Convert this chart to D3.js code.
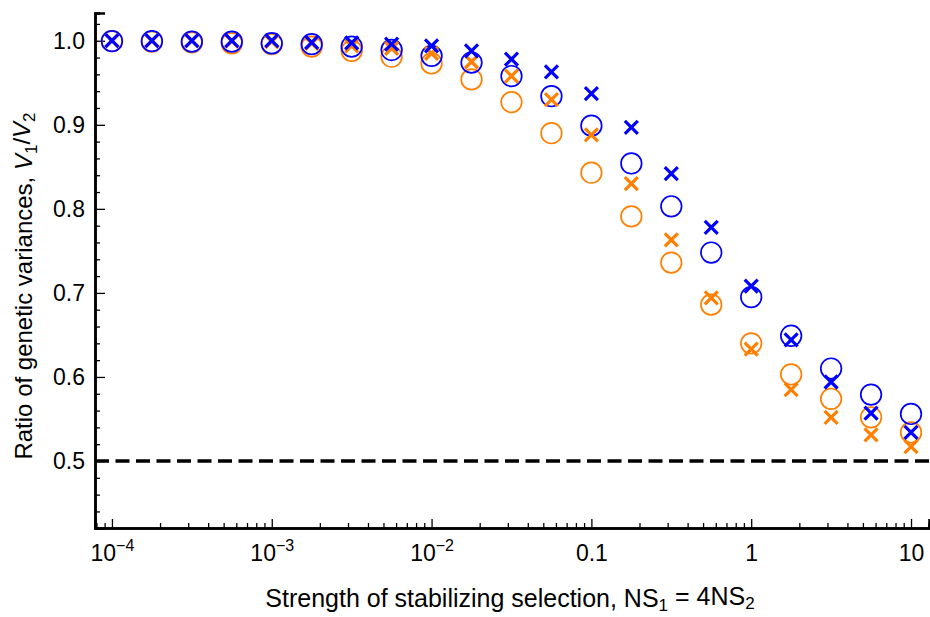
<!DOCTYPE html>
<html>
<head>
<meta charset="utf-8">
<script src="https://cdn.jsdelivr.net/npm/d3@7/dist/d3.min.js"></script>
<style>
  html, body { margin: 0; padding: 0; background: #fff; }
  svg { display: block; font-family: "Liberation Sans", Arial, Helvetica, sans-serif; }
</style>
</head>
<body>
<svg id="chart" width="930" height="617"></svg>
<script>
// Selection strength NS1 (quarter-decade steps from 1e-4 to 10)
const strength = [1e-4, 1.778e-4, 3.162e-4, 5.623e-4, 1e-3, 1.778e-3, 3.162e-3, 5.623e-3,
                  1e-2, 1.778e-2, 3.162e-2, 5.623e-2, 0.1, 0.1778, 0.3162, 0.5623,
                  1, 1.778, 3.162, 5.623, 10];

// Ratio V1/V2 for the four series
const blueCross   = [1.000, 1.000, 1.000, 1.000, 1.000, 0.998, 0.9975, 0.996, 0.994, 0.988, 0.978,
                     0.963, 0.937, 0.897, 0.842, 0.778, 0.708, 0.644, 0.594, 0.557, 0.534];
const blueCircle  = [0.9995, 0.9995, 0.999, 0.999, 0.997, 0.996, 0.993, 0.989, 0.982, 0.974, 0.958,
                     0.934, 0.899, 0.854, 0.803, 0.748, 0.695, 0.649, 0.610, 0.579, 0.556];
const orangeCross = [1.000, 1.000, 1.000, 0.9995, 0.999, 0.997, 0.994, 0.991, 0.985, 0.975, 0.958,
                     0.930, 0.888, 0.830, 0.763, 0.694, 0.633, 0.585, 0.552, 0.531, 0.517];
const orangeCircle= [0.9995, 0.999, 0.998, 0.997, 0.996, 0.993, 0.988, 0.981, 0.973, 0.954, 0.927,
                     0.890, 0.843, 0.791, 0.736, 0.686, 0.640, 0.603, 0.574, 0.552, 0.534];

// Reference level
const refLevel = 0.5;

// Axis ticks
const yMajor = [0.5, 0.6, 0.7, 0.8, 0.9, 1.0];
const yMinor = [0.44, 0.46, 0.48, 0.52, 0.54, 0.56, 0.58, 0.62, 0.64, 0.66, 0.68, 0.72, 0.74, 0.76, 0.78,
                0.82, 0.84, 0.86, 0.88, 0.92, 0.94, 0.96, 0.98, 1.02];
const xMajor = [1e-4, 1e-3, 1e-2, 0.1, 1, 10];
const xLabels = [["10", "\u22124"], ["10", "\u22123"], ["10", "\u22122"], ["0.1", ""], ["1", ""], ["10", ""]];

const BLUE = "#0000ff";
const ORANGE = "#ff8000";
const TICK_FONT = 23;

const svg = d3.select("#chart");

const x = d3.scaleLog().domain([Math.pow(10, -4.106), Math.pow(10, 1.1125)]).range([95, 929]);
const y = d3.scaleLinear().domain([0.4203, 1.033]).range([528, 13]);

// x minor ticks: 2..9 times each power of ten inside the domain
const xMinor = [];
[1e-5, 1e-4, 1e-3, 1e-2, 0.1, 1, 10].forEach(p => {
  for (let k = 2; k <= 9; k++) {
    const v = k * p;
    if (v >= x.domain()[0] && v <= x.domain()[1]) xMinor.push(v);
  }
});

// Dashed reference line
svg.append("line")
  .attr("x1", x.range()[0]).attr("x2", x.range()[1])
  .attr("y1", y(refLevel)).attr("y2", y(refLevel))
  .attr("stroke", "#000").attr("stroke-width", 3.5)
  .attr("stroke-dasharray", "14,6.5");

// Y axis
const gyMinor = svg.append("g").attr("transform", `translate(${x.range()[0]},0)`)
  .call(d3.axisLeft(y).tickValues(yMinor).tickSize(-5).tickFormat(""));
const gy = svg.append("g").attr("transform", `translate(${x.range()[0]},0)`)
  .call(d3.axisLeft(y).tickValues(yMajor).tickSize(-10).tickPadding(10).tickFormat(d3.format(".1f")));

// X axis
const gxMinor = svg.append("g").attr("transform", `translate(0,${y.range()[0]})`)
  .call(d3.axisBottom(x).tickValues(xMinor).tickSize(-5).tickFormat(""));
const gx = svg.append("g").attr("transform", `translate(0,${y.range()[0]})`)
  .call(d3.axisBottom(x).tickValues(xMajor).tickSize(-9).tickPadding(10).tickFormat(""));

[gy, gyMinor, gx, gxMinor].forEach(g => {
  g.select(".domain").attr("stroke", "#000").attr("stroke-width", 2.5);
  g.selectAll(".tick line").attr("stroke", "#000").attr("stroke-width", 1.3);
});
gy.selectAll(".tick text").attr("font-size", TICK_FONT).attr("fill", "#000")
  .attr("font-family", "Liberation Sans, Arial, sans-serif");

// x tick labels with superscript exponents
gx.selectAll(".tick text").each(function(d, i) {
  const t = d3.select(this).text("")
    .attr("font-size", TICK_FONT).attr("fill", "#000")
    .attr("font-family", "Liberation Sans, Arial, sans-serif")
    .attr("dy", "1em");
  const [base, sup] = xLabels[i];
  t.append("tspan").text(base);
  if (sup) t.append("tspan").attr("font-size", 16).attr("dy", "-0.6em").text(sup);
});

// Markers
const pts = (vals) => strength.map((s, i) => ({ s, v: vals[i] }));
const crossPath = (h) => `M${-h},${-h}L${h},${h}M${-h},${h}L${h},${-h}`;

function circles(vals, color) {
  svg.append("g").selectAll("circle").data(pts(vals)).join("circle")
    .attr("cx", d => x(d.s)).attr("cy", d => y(d.v)).attr("r", 10.3)
    .attr("fill", "none").attr("stroke", color).attr("stroke-width", 1.7);
}
function crosses(vals, color) {
  svg.append("g").selectAll("path").data(pts(vals)).join("path")
    .attr("transform", d => `translate(${x(d.s)},${y(d.v)})`)
    .attr("d", crossPath(6.5))
    .attr("fill", "none").attr("stroke", color).attr("stroke-width", 3.2);
}
circles(orangeCircle, ORANGE);
circles(blueCircle, BLUE);
crosses(orangeCross, ORANGE);
crosses(blueCross, BLUE);

// Axis titles
svg.append("text")
  .attr("x", 510).attr("y", 607).attr("text-anchor", "middle")
  .attr("font-size", 25).attr("fill", "#000")
  .call(t => {
    t.append("tspan").text("Strength of stabilizing selection, NS");
    t.append("tspan").attr("font-size", 17).attr("dy", "0.22em").text("1");
    t.append("tspan").attr("dy", "-0.22em").text(" = 4NS");
    t.append("tspan").attr("font-size", 17).attr("dy", "0.22em").text("2");
  });

svg.append("text")
  .attr("transform", "translate(32,286) rotate(-90)")
  .attr("text-anchor", "middle")
  .attr("font-size", 24).attr("fill", "#000")
  .call(t => {
    t.append("tspan").text("Ratio of genetic variances, ");
    t.append("tspan").attr("font-style", "italic").text("V");
    t.append("tspan").attr("font-size", 17).attr("dy", "0.3em").text("1");
    t.append("tspan").attr("dy", "-0.3em").text("/");
    t.append("tspan").attr("font-style", "italic").text("V");
    t.append("tspan").attr("font-size", 17).attr("dy", "0.3em").text("2");
  });
</script>
</body>
</html>
